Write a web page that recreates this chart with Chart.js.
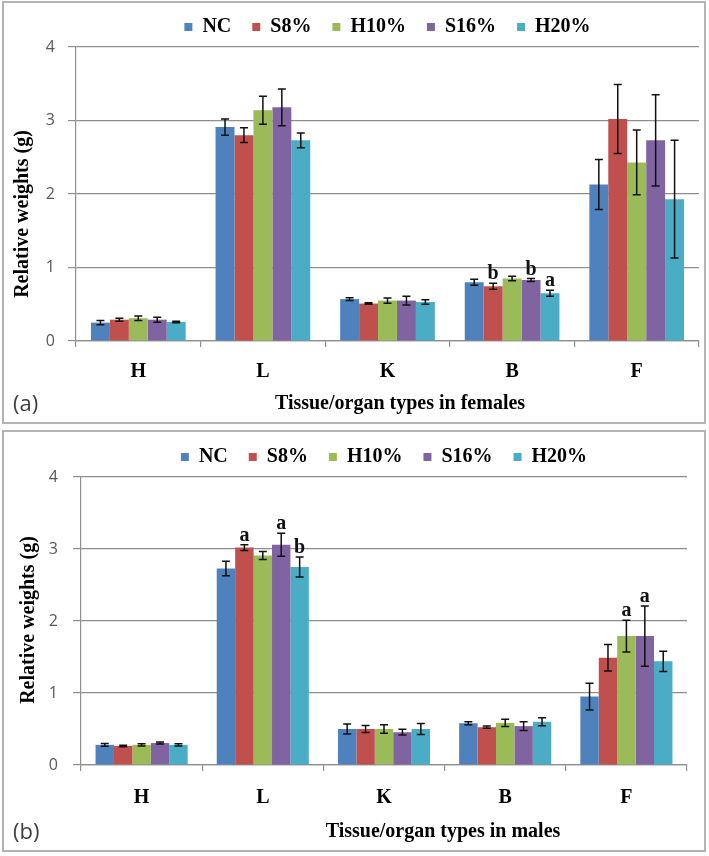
<!DOCTYPE html>
<html lang="en">
<head>
<meta charset="UTF-8">
<title>Relative organ weights - females (a) and males (b)</title>
<script src="https://cdn.jsdelivr.net/npm/chart.js"></script>
<style>
  body { margin: 0; background: #fff; }
  .wrap { position: relative; width: 709px; height: 856px; }
  .panel { position: absolute; left: 2px; width: 704px; box-sizing: border-box; border: 2px solid #b3b3b3; background: #fff; }
  .panel canvas { display: block; }
  .tag { position: absolute; left: 9px; font: 22px 'Open Sans', sans-serif; line-height: 26px; color: #404040; }
  .xtitle, .ytitle { position: absolute; font: bold 20px 'Liberation Serif', serif; line-height: 24px; color: #000; white-space: nowrap; }
  .xtitle { transform: translateX(-50%); }
  .ytitle { transform: translate(-50%, -50%) rotate(-90deg); }
</style>
</head>
<body>
<div class="wrap">
  <div class="panel" style="top:1px;height:423px">
    <canvas id="chartA" width="700" height="419"></canvas>
    <div class="ytitle" style="left:17px;top:211px">Relative weights (g)</div>
    <div class="tag" style="top:386px">(a)</div>
    <div class="xtitle" style="left:396px;top:387px">Tissue/organ types in females</div>
  </div>
  <div class="panel" style="top:430px;height:422px">
    <canvas id="chartB" width="700" height="418"></canvas>
    <div class="ytitle" style="left:23px;top:188px">Relative weights (g)</div>
    <div class="tag" style="top:385px">(b)</div>
    <div class="xtitle" style="left:439px;top:386px">Tissue/organ types in males</div>
  </div>
</div>

<script>
// organs on the x axis and the five diet groups
const organs = ['H', 'L', 'K', 'B', 'F'];
const groups = ['NC', 'S8%', 'H10%', 'S16%', 'H20%'];
const groupColors = ['#4F81BD', '#C0504D', '#9BBB59', '#8064A2', '#4BACC6'];
const yTicks = [0, 1, 2, 3, 4];

// females: means and error (+/-)
const femNC  = [0.25, 2.91, 0.57, 0.80, 2.13];
const femS8  = [0.29, 2.80, 0.51, 0.745, 3.02];
const femH10 = [0.31, 3.14, 0.55, 0.85, 2.43];
const femS16 = [0.29, 3.18, 0.55, 0.83, 2.73];
const femH20 = [0.26, 2.73, 0.53, 0.65, 1.93];

const femNCErr  = [0.03, 0.11, 0.02, 0.04, 0.34];
const femS8Err  = [0.02, 0.10, 0.01, 0.04, 0.47];
const femH10Err = [0.03, 0.19, 0.035, 0.03, 0.44];
const femS16Err = [0.034, 0.25, 0.06, 0.02, 0.62];
const femH20Err = [0.01, 0.10, 0.03, 0.04, 0.80];

// significance letters above the bars (females)
const femS8Sig  = ['', '', '', 'b', ''];
const femS16Sig = ['', '', '', 'b', ''];
const femH20Sig = ['', '', '', 'a', ''];

// males: means and error (+/-)
const malNC  = [0.28, 2.73, 0.50, 0.58, 0.95];
const malS8  = [0.265, 3.02, 0.50, 0.525, 1.49];
const malH10 = [0.28, 2.91, 0.50, 0.585, 1.79];
const malS16 = [0.305, 3.06, 0.455, 0.54, 1.79];
const malH20 = [0.28, 2.75, 0.50, 0.60, 1.44];

const malNCErr  = [0.02, 0.10, 0.07, 0.02, 0.185];
const malS8Err  = [0.01, 0.04, 0.05, 0.015, 0.185];
const malH10Err = [0.015, 0.055, 0.06, 0.05, 0.22];
const malS16Err = [0.015, 0.16, 0.04, 0.06, 0.42];
const malH20Err = [0.015, 0.14, 0.075, 0.055, 0.14];

// significance letters above the bars (males)
const malS8Sig  = ['', 'a', '', '', ''];
const malH10Sig = ['', '', '', '', 'a'];
const malS16Sig = ['', 'a', '', '', 'a'];
const malH20Sig = ['', 'b', '', '', ''];

const serif = 'Liberation Serif, Times New Roman, serif';
const gridGray = '#8f8f8f';

// draws the error bars and the letters on top of them
const errorBars = {
    id: 'errorBars',
    afterDatasetsDraw(chart) {
        const ctx = chart.ctx;
        const y = chart.scales.y;
        ctx.save();
        ctx.strokeStyle = '#111';
        ctx.fillStyle = '#111';
        ctx.lineWidth = 1.5;
        ctx.font = 'bold 20px ' + serif;
        ctx.textAlign = 'center';
        ctx.textBaseline = 'alphabetic';
        chart.data.datasets.forEach((ds, i) => {
            chart.getDatasetMeta(i).data.forEach((bar, j) => {
                const v = ds.data[j];
                const e = ds.errors[j];
                const top = y.getPixelForValue(v + e);
                const bot = y.getPixelForValue(v - e);
                ctx.beginPath();
                ctx.moveTo(bar.x, top); ctx.lineTo(bar.x, bot);
                ctx.moveTo(bar.x - 4, top); ctx.lineTo(bar.x + 4, top);
                ctx.moveTo(bar.x - 4, bot); ctx.lineTo(bar.x + 4, bot);
                ctx.stroke();
                if (ds.sig[j]) ctx.fillText(ds.sig[j], bar.x, top - 4);
            });
        });
        ctx.restore();
    }
};

function makeChart(id, means, errs, sigs, fit) {
    const datasets = groups.map((g, i) => ({
        label: g,
        data: means[i],
        errors: errs[i],
        sig: sigs[i],
        backgroundColor: groupColors[i],
        categoryPercentage: 0.76,
        barPercentage: 1.0
    }));

    return new Chart(document.getElementById(id), {
        type: 'bar',
        data: { labels: organs, datasets: datasets },
        plugins: [errorBars],
        options: {
            responsive: false,
            animation: false,
            layout: { padding: { top: fit.padTop, left: 2, right: fit.padRight, bottom: 0 } },
            plugins: {
                legend: {
                    position: 'top',
                    fullSize: false,
                    labels: {
                        boxWidth: 8, boxHeight: 8, padding: 21, color: '#000',
                        font: { family: serif, size: 20, weight: 'bold' }
                    }
                },
                tooltip: { enabled: false }
            },
            scales: {
                x: {
                    ticks: { padding: fit.xPad, color: '#000', font: { family: serif, size: 20, weight: 'bold' } },
                    grid: { offset: true, drawOnChartArea: false, drawTicks: true, tickLength: 6, color: gridGray, lineWidth: 1.2 },
                    border: { display: true, color: gridGray, width: 1.2 },
                    afterFit(scale) { scale.height = fit.xHeight; }
                },
                y: {
                    min: 0, max: 4,
                    afterBuildTicks(scale) { scale.ticks = yTicks.map(v => ({ value: v })); },
                    ticks: { padding: fit.yPad, color: '#595959', font: { family: 'Open Sans', size: 16 } },
                    grid: { color: gridGray, lineWidth: 1.2, drawTicks: true, tickLength: 8 },
                    border: { display: true, color: gridGray, width: 1.2 },
                    afterFit(scale) { scale.width = fit.yWidth; }
                }
            }
        }
    });
}

makeChart('chartA',
    [femNC, femS8, femH10, femS16, femH20],
    [femNCErr, femS8Err, femH10Err, femS16Err, femH20Err],
    [[], femS8Sig, [], femS16Sig, femH20Sig],
    { padTop: -7, padRight: 5, xPad: 13, xHeight: 81, yPad: 13, yWidth: 70 });

makeChart('chartB',
    [malNC, malS8, malH10, malS16, malH20],
    [malNCErr, malS8Err, malH10Err, malS16Err, malH20Err],
    [[], malS8Sig, malH10Sig, malS16Sig, malH20Sig],
    { padTop: -6, padRight: 17, xPad: 15, xHeight: 85, yPad: 15, yWidth: 75 });
</script>
</body>
</html>
